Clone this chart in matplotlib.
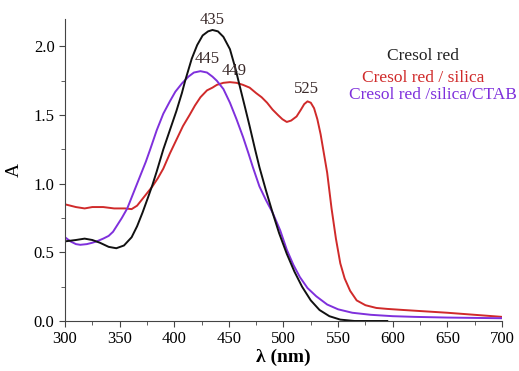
import numpy as np
import matplotlib.pyplot as plt
from matplotlib.ticker import MultipleLocator

# Cresol red (black)
wl_cr = [300, 310, 318, 325, 332, 340, 347, 354, 361, 366, 371, 376, 380, 384, 390, 396, 402,
         407, 410, 416, 421, 426, 431, 435, 440, 445, 451, 456, 460, 465, 469, 474, 478, 484,
         490, 496, 503, 510, 517, 525, 533, 542, 552, 565, 580, 595]
a_cr = [0.58, 0.59, 0.60, 0.59, 0.57, 0.54, 0.53, 0.55, 0.61, 0.69, 0.79, 0.90, 0.99, 1.09, 1.25,
        1.39, 1.53, 1.66, 1.75, 1.91, 2.01, 2.08, 2.11, 2.12, 2.11, 2.07, 1.98, 1.84, 1.71, 1.55,
        1.42, 1.25, 1.12, 0.95, 0.79, 0.64, 0.49, 0.36, 0.25, 0.15, 0.08, 0.035, 0.01, 0.0, 0.0, 0.0]

# Cresol red / silica (red)
wl_si = [300, 305, 310, 318, 325, 335, 345, 355, 361, 366, 370, 375, 380, 385, 390, 396, 402, 408,
         414, 419, 424, 430, 435, 439, 445, 451, 457, 463, 469, 475, 480, 485, 490, 495, 499, 503,
         507, 512, 516, 519, 522, 525, 528, 531, 534, 537, 540, 544, 548, 552, 556, 561, 567, 575,
         585, 595, 610, 630, 650, 675, 700]
a_si = [0.85, 0.84, 0.83, 0.82, 0.83, 0.83, 0.82, 0.82, 0.815, 0.84, 0.88, 0.93, 0.98, 1.04, 1.11,
        1.22, 1.32, 1.42, 1.50, 1.57, 1.63, 1.68, 1.70, 1.72, 1.735, 1.74, 1.735, 1.72, 1.70, 1.66,
        1.63, 1.59, 1.54, 1.50, 1.47, 1.45, 1.46, 1.49, 1.54, 1.58, 1.60, 1.59, 1.55, 1.47, 1.36,
        1.22, 1.08, 0.82, 0.60, 0.42, 0.31, 0.22, 0.15, 0.115, 0.095, 0.088, 0.08, 0.07, 0.06,
        0.045, 0.03]

# Cresol red / silica / CTAB (purple)
wl_ct = [300, 305, 310, 314, 320, 325, 329, 335, 340, 344, 348, 352, 357, 362, 366, 370, 374, 378,
         384, 390, 396, 401, 407, 413, 418, 424, 430, 435, 439, 445, 451, 457, 463, 468, 472, 478,
         484, 490, 497, 503, 509, 515, 522, 530, 540, 550, 563, 580, 600, 620, 650, 700]
a_ct = [0.61, 0.58, 0.56, 0.555, 0.56, 0.57, 0.58, 0.60, 0.62, 0.65, 0.70, 0.75, 0.82, 0.92, 1.00,
        1.08, 1.16, 1.25, 1.39, 1.51, 1.60, 1.67, 1.73, 1.78, 1.81, 1.82, 1.81, 1.78, 1.75, 1.69,
        1.59, 1.47, 1.34, 1.22, 1.12, 0.98, 0.88, 0.79, 0.66, 0.52, 0.41, 0.32, 0.24, 0.18, 0.12,
        0.085, 0.06, 0.045, 0.035, 0.03, 0.025, 0.02]

peak_labels = ['435', '445', '449', '525']
peak_x = [435, 430, 455, 521]
peak_y = [2.19, 1.91, 1.82, 1.69]

plt.rcParams['font.family'] = ['Liberation Serif', 'DejaVu Serif']

fig = plt.figure(figsize=(5.19, 3.71), dpi=100)
ax = fig.add_axes([0.1252, 0.1348, 0.842, 0.814])

c_black = '#111111'
c_red = '#d02a2a'
c_purple = '#7f30dc'

ax.plot(wl_si, a_si, color=c_red, lw=1.4)
ax.plot(wl_ct, a_ct, color=c_purple, lw=1.4)
ax.plot(wl_cr, a_cr, color=c_black, lw=1.4)

for lab, x, y in zip(peak_labels, peak_x, peak_y):
    ax.text(x, y, lab, ha='center', va='center', fontsize=12, color='#3a2a2a')

ax.text(628, 1.93, 'Cresol red', ha='center', va='center', fontsize=12.5, color='#222222')
ax.text(628, 1.77, 'Cresol red / silica', ha='center', va='center', fontsize=12.5, color=c_red)
ax.text(637, 1.645, 'Cresol red /silica/CTAB', ha='center', va='center', fontsize=12.5,
        color=c_purple, clip_on=False)

ax.set_xlim(300, 700)
ax.set_ylim(0, 2.2)
ax.xaxis.set_major_locator(MultipleLocator(50))
ax.xaxis.set_minor_locator(MultipleLocator(25))
ax.yaxis.set_major_locator(MultipleLocator(0.5))
ax.yaxis.set_minor_locator(MultipleLocator(0.25))
ax.yaxis.set_major_formatter(plt.FormatStrFormatter('%.1f'))
ax.tick_params(which='both', direction='out', labelsize=12, color='#444444')
ax.tick_params(which='major', length=4)
ax.tick_params(which='minor', length=3)

ax.spines['top'].set_visible(False)
ax.spines['right'].set_visible(False)
ax.spines['left'].set_color('#444444')
ax.spines['bottom'].set_color('#444444')

ax.set_xlabel('λ (nm)', fontsize=14, fontweight='bold', labelpad=1)
ax.set_ylabel('A', fontsize=14, labelpad=8)

fig.savefig('out.png', dpi=100)
